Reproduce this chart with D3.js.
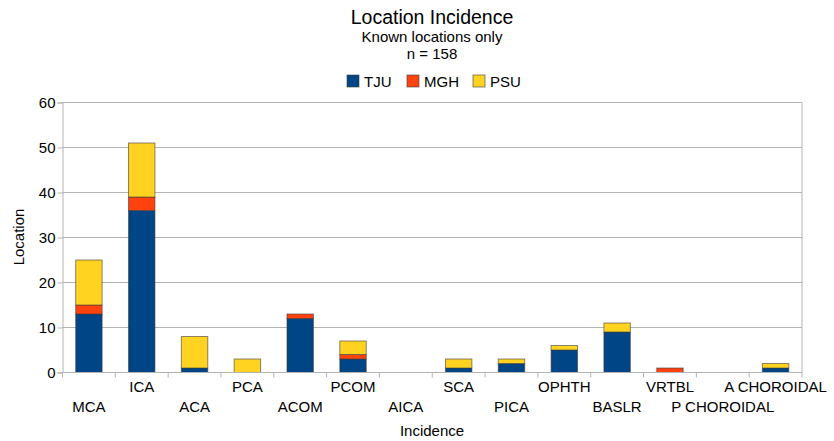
<!DOCTYPE html>
<html><head><meta charset="utf-8">
<script src="https://cdn.jsdelivr.net/npm/d3@7"></script>
<style>body{margin:0;background:#fff}svg{display:block;font-family:"Liberation Sans",Arial,sans-serif}</style>
</head><body>
<svg id="c" width="834" height="441"></svg>
<script>
const categories = ["MCA","ICA","ACA","PCA","ACOM","PCOM","AICA","SCA","PICA","OPHTH","BASLR","VRTBL","P CHOROIDAL","A CHOROIDAL"];
const seriesNames = ["TJU","MGH","PSU"];
const tju = [13,36,1,0,12,3,0,1,2,5,9,0,0,1];
const mgh = [2,3,0,0,1,1,0,0,0,0,0,1,0,0];
const psu = [10,12,7,3,0,3,0,2,1,1,2,0,0,1];
const yTicks = [0,10,20,30,40,50,60];
const colors = ["#004586","#ff420e","#ffd320"];

const svg = d3.select("#c");
const L = 62.5, R = 802, T = 102.5, B = 372.5;
const x = d3.scaleBand().domain(categories).range([L, R]).paddingInner(0.5).paddingOuter(0.25);
const y = d3.scaleLinear().domain([0, 60]).range([B, T]);

// gridlines
svg.append("g").selectAll("line").data(yTicks).join("line")
  .attr("x1", L).attr("x2", R).attr("y1", d => y(d)).attr("y2", d => y(d))
  .attr("stroke", "#b3b3b3").attr("stroke-width", 1);
// plot border right
svg.append("line").attr("x1", R).attr("x2", R).attr("y1", T).attr("y2", B).attr("stroke", "#b3b3b3");

// stacked bars
const table = categories.map((c, i) => ({cat: c, TJU: tju[i], MGH: mgh[i], PSU: psu[i]}));
const stack = d3.stack().keys(seriesNames)(table);
svg.append("g").selectAll("g").data(stack).join("g")
  .attr("fill", (d, i) => colors[i])
  .selectAll("rect").data(d => d.filter(s => s[1] - s[0] > 0)).join("rect")
  .attr("x", d => x(d.data.cat)).attr("width", x.bandwidth())
  .attr("y", d => y(d[1])).attr("height", d => y(d[0]) - y(d[1]))
  .attr("stroke", "#3c3c3c").attr("stroke-opacity", 0.6).attr("stroke-width", 1);

// y axis
const yAxis = d3.axisLeft(y).tickValues(yTicks).tickSize(5).tickPadding(2);
const gy = svg.append("g").attr("transform", `translate(${L},0)`).call(yAxis);
gy.select(".domain").attr("stroke", "#b3b3b3");
gy.selectAll(".tick line").attr("stroke", "#b3b3b3");
gy.selectAll("text").attr("font-size", 15).attr("fill", "#000").attr("font-family", "Liberation Sans");

// x axis: ticks at band boundaries
const bounds = d3.range(categories.length + 1).map(i => L + i * (R - L) / categories.length);
const gx = svg.append("g");
gx.append("line").attr("x1", L).attr("x2", R).attr("y1", B).attr("y2", B).attr("stroke", "#b3b3b3");
gx.selectAll("line.t").data(bounds).join("line").attr("class", "t")
  .attr("x1", d => d).attr("x2", d => d).attr("y1", B).attr("y2", B + 5).attr("stroke", "#b3b3b3");
gx.selectAll("text").data(categories).join("text")
  .attr("x", d => x(d) + x.bandwidth() / 2)
  .attr("y", (d, i) => i % 2 === 0 ? 412 : 392)
  .attr("text-anchor", "middle").attr("font-size", 15).attr("fill", "#000").text(d => d);

// axis titles
svg.append("text").attr("x", 432).attr("y", 436).attr("text-anchor", "middle").attr("font-size", 15).text("Incidence");
svg.append("text").attr("transform", "translate(24,237) rotate(-90)").attr("text-anchor", "middle").attr("font-size", 15).text("Location");

// titles
svg.append("text").attr("x", 432).attr("y", 24).attr("text-anchor", "middle").attr("font-size", 19.5).text("Location Incidence");
svg.append("text").attr("x", 432).attr("y", 41.5).attr("text-anchor", "middle").attr("font-size", 15).text("Known locations only");
svg.append("text").attr("x", 432).attr("y", 58.5).attr("text-anchor", "middle").attr("font-size", 15).text("n = 158");

// legend
const legX = [347, 407, 473];
const lg = svg.append("g").selectAll("g").data(seriesNames).join("g")
  .attr("transform", (d, i) => `translate(${legX[i]},75)`);
lg.append("rect").attr("width", 12).attr("height", 12).attr("fill", (d, i) => colors[i])
  .attr("stroke", "#3c3c3c").attr("stroke-opacity", 0.6);
lg.append("text").attr("x", 17).attr("y", 11.5).attr("font-size", 15).text(d => d);
</script>
</body></html>
